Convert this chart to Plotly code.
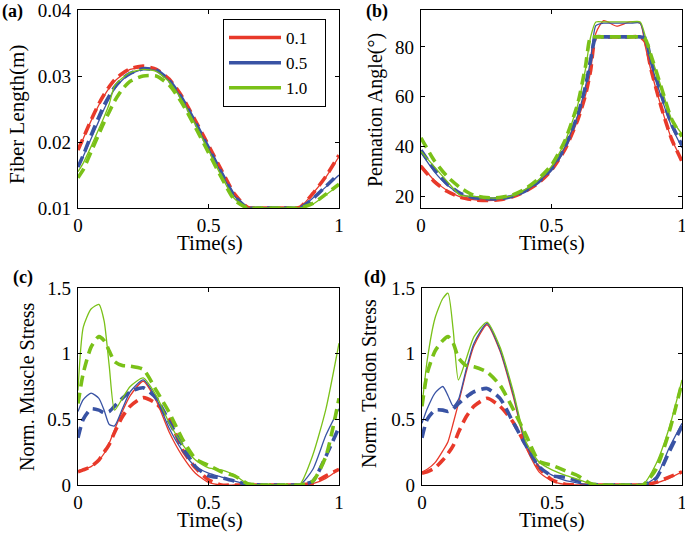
import plotly.graph_objects as go

# ---------------- data ----------------
T = [0, 0.02, 0.05, 0.08, 0.1, 0.12, 0.14, 0.17, 0.2, 0.25, 0.3, 0.35, 0.4,
     0.45, 0.5, 0.55, 0.6, 0.65, 0.7, 0.75, 0.8, 0.85, 0.9, 0.95, 1.0]
T_b = [0, 0.05, 0.1, 0.15, 0.2, 0.25, 0.3, 0.35, 0.4, 0.45, 0.5, 0.55, 0.6,
       0.63, 0.65, 0.67, 0.7, 0.75, 0.8, 0.84, 0.86, 0.88, 0.92, 0.96, 1.0]

legend_labels = ["0.1", "0.5", "1.0"]

# (a) Fiber length (m)
fib_01_solid = [0.0188, 0.0205, 0.0232, 0.0256, 0.0270, 0.0282, 0.0292, 0.0302, 0.0310, 0.0313, 0.0308, 0.0293, 0.0266,
                0.0230, 0.0193, 0.0155, 0.0120, 0.0101, 0.0100, 0.0100, 0.0100, 0.0101, 0.0122, 0.0147, 0.0178]
fib_01_dash = [0.0188, 0.0206, 0.0233, 0.0258, 0.0272, 0.0284, 0.0294, 0.0304, 0.0311, 0.0315, 0.0310, 0.0295, 0.0268,
               0.0232, 0.0195, 0.0157, 0.0121, 0.0101, 0.0100, 0.0100, 0.0100, 0.0101, 0.0122, 0.0148, 0.0180]
fib_05_solid = [0.0163, 0.0178, 0.0205, 0.0232, 0.0250, 0.0266, 0.0280, 0.0294, 0.0303, 0.0310, 0.0308, 0.0292, 0.0264,
                0.0228, 0.0190, 0.0152, 0.0118, 0.0100, 0.0100, 0.0100, 0.0100, 0.0100, 0.0115, 0.0132, 0.0150]
fib_05_dash = [0.0162, 0.0180, 0.0210, 0.0238, 0.0256, 0.0270, 0.0283, 0.0296, 0.0304, 0.0311, 0.0309, 0.0293, 0.0265,
               0.0229, 0.0191, 0.0153, 0.0118, 0.0100, 0.0100, 0.0100, 0.0100, 0.0100, 0.0114, 0.0133, 0.0152]
fib_10_solid = [0.0155, 0.0168, 0.0193, 0.0220, 0.0238, 0.0258, 0.0285, 0.0297, 0.0305, 0.0310, 0.0307, 0.0291, 0.0262,
                0.0226, 0.0187, 0.0148, 0.0114, 0.0100, 0.0100, 0.0100, 0.0100, 0.0100, 0.0106, 0.0120, 0.0135]
fib_10_dash = [0.0146, 0.0158, 0.0185, 0.0212, 0.0230, 0.0246, 0.0262, 0.0280, 0.0292, 0.0300, 0.0300, 0.0286, 0.0258,
               0.0222, 0.0184, 0.0146, 0.0112, 0.0100, 0.0100, 0.0100, 0.0100, 0.0100, 0.0107, 0.0121, 0.0136]

# (b) Pennation angle (deg)
pen_01_solid = [32.5, 26.5, 22.3, 19.8, 18.7, 18.3, 18.6, 19.8, 22.0, 25.3, 30.5, 38.5, 50.5,
                60.5, 70.5, 85.5, 90.5, 88.3, 90.0, 89.5, 80.0, 71.0, 56.0, 43.0, 34.5]
pen_01_dash = [32.0, 26.0, 22.0, 19.6, 18.6, 18.3, 18.6, 19.8, 22.0, 25.3, 30.5, 38.5, 50.5,
               60.5, 70.5, 84.0, 84.0, 84.0, 84.0, 84.0, 82.0, 71.5, 56.0, 43.0, 34.0]
pen_05_solid = [37.5, 30.0, 24.5, 21.0, 19.5, 19.0, 19.0, 20.0, 22.2, 25.8, 31.0, 39.5, 52.5,
                64.0, 75.0, 88.5, 89.5, 89.5, 89.5, 89.5, 82.0, 74.0, 60.0, 48.0, 39.5]
pen_05_dash = [38.5, 31.0, 25.0, 21.2, 19.5, 19.0, 19.0, 20.0, 22.2, 25.8, 31.0, 39.5, 52.5,
               64.0, 75.0, 84.0, 84.0, 84.0, 84.0, 84.0, 83.5, 75.0, 61.0, 49.0, 40.5]
pen_10_solid = [38.0, 32.0, 26.0, 20.5, 20.0, 19.5, 19.3, 20.3, 22.8, 26.5, 32.0, 41.5, 56.5,
                71.0, 84.0, 90.0, 90.0, 90.0, 90.0, 90.0, 84.0, 77.0, 64.0, 51.0, 45.0]
pen_10_dash = [43.5, 34.5, 28.0, 23.5, 20.5, 19.5, 19.5, 20.5, 23.0, 27.0, 32.5, 42.0, 57.0,
               72.0, 84.0, 84.0, 84.0, 84.0, 84.0, 84.0, 83.0, 77.0, 64.0, 51.0, 44.0]

# (c) Normalised muscle stress
mus_01_solid = [0.11, 0.12, 0.14, 0.19, 0.24, 0.32, 0.42, 0.56, 0.68, 0.79, 0.64, 0.40, 0.22,
                0.09, 0.02, 0.0, 0.0, 0.0, 0.0, 0.0, 0.0, 0.0, 0.01, 0.05, 0.12]
mus_01_dash = [0.10, 0.115, 0.14, 0.19, 0.25, 0.31, 0.40, 0.52, 0.60, 0.665, 0.62, 0.50, 0.27,
               0.13, 0.04, 0.0, 0.0, 0.0, 0.0, 0.0, 0.0, 0.0, 0.015, 0.07, 0.12]
mus_05_solid = [0.56, 0.65, 0.70, 0.66, 0.57, 0.46, 0.45, 0.58, 0.71, 0.80, 0.66, 0.43, 0.26,
                0.14, 0.09, 0.06, 0.03, 0.005, 0.0, 0.0, 0.0, 0.0, 0.12, 0.38, 0.58]
mus_05_dash = [0.36, 0.50, 0.58, 0.57, 0.55, 0.56, 0.60, 0.66, 0.71, 0.74, 0.66, 0.48, 0.30,
               0.14, 0.07, 0.055, 0.03, 0.005, 0.0, 0.0, 0.0, 0.0, 0.03, 0.22, 0.44]
mus_10_solid = [0.72, 1.20, 1.34, 1.375, 1.25, 0.90, 0.57, 0.66, 0.75, 0.815, 0.68, 0.47, 0.31,
                0.19, 0.13, 0.115, 0.075, 0.01, 0.0, 0.0, 0.0, 0.005, 0.23, 0.58, 1.08]
mus_10_dash = [0.62, 0.85, 1.05, 1.13, 1.10, 1.02, 0.94, 0.91, 0.905, 0.88, 0.72, 0.55, 0.35,
               0.20, 0.15, 0.10, 0.07, 0.01, 0.0, 0.0, 0.0, 0.0, 0.03, 0.22, 0.66]

# (d) Normalised tendon stress
ten_01_solid = [0.10, 0.12, 0.17, 0.26, 0.33, 0.47, 0.62, 0.86, 1.06, 1.22, 1.02, 0.68, 0.29,
                0.10, 0.03, 0.005, 0.0, 0.0, 0.0, 0.0, 0.0, 0.0, 0.015, 0.05, 0.10]
ten_01_dash = [0.09, 0.10, 0.13, 0.19, 0.24, 0.30, 0.40, 0.52, 0.60, 0.66, 0.60, 0.48, 0.30,
               0.13, 0.04, 0.005, 0.0, 0.0, 0.0, 0.0, 0.0, 0.0, 0.02, 0.06, 0.10]
ten_05_solid = [0.47, 0.58, 0.70, 0.75, 0.68, 0.60, 0.65, 0.88, 1.08, 1.23, 1.03, 0.70, 0.31,
                0.14, 0.075, 0.035, 0.015, 0.0, 0.0, 0.0, 0.0, 0.0, 0.06, 0.28, 0.47]
ten_05_dash = [0.36, 0.50, 0.57, 0.57, 0.56, 0.58, 0.62, 0.67, 0.71, 0.735, 0.66, 0.48, 0.30,
               0.14, 0.07, 0.06, 0.03, 0.005, 0.0, 0.0, 0.0, 0.0, 0.05, 0.25, 0.45]
ten_10_solid = [0.60, 0.95, 1.27, 1.42, 1.46, 1.18, 0.80, 0.96, 1.13, 1.24, 1.05, 0.72, 0.33,
                0.175, 0.115, 0.075, 0.043, 0.01, 0.0, 0.0, 0.0, 0.005, 0.16, 0.43, 0.80]
ten_10_dash = [0.60, 0.85, 1.02, 1.10, 1.13, 1.08, 0.97, 0.91, 0.90, 0.86, 0.76, 0.58, 0.38,
               0.18, 0.15, 0.11, 0.07, 0.01, 0.0, 0.0, 0.0, 0.0, 0.12, 0.40, 0.78]

colors = ["#E8392A", "#3953A4", "#7AC118"]

panels = [
    (T, [fib_01_solid, fib_05_solid, fib_10_solid], [fib_01_dash, fib_05_dash, fib_10_dash], "x", "y"),
    (T_b, [pen_01_solid, pen_05_solid, pen_10_solid], [pen_01_dash, pen_05_dash, pen_10_dash], "x2", "y2"),
    (T, [mus_01_solid, mus_05_solid, mus_10_solid], [mus_01_dash, mus_05_dash, mus_10_dash], "x3", "y3"),
    (T, [ten_01_solid, ten_05_solid, ten_10_solid], [ten_01_dash, ten_05_dash, ten_10_dash], "x4", "y4"),
]

FONT = "Times New Roman, Liberation Serif, serif"

fig = go.Figure()
for tt, sols, dashes, xa, ya in panels:
    for i in range(3):
        fig.add_trace(go.Scatter(x=tt, y=sols[i], mode="lines", xaxis=xa, yaxis=ya,
                                 line=dict(color=colors[i], width=1.3, shape="spline", smoothing=0.6),
                                 showlegend=False, hoverinfo="skip"))
        fig.add_trace(go.Scatter(x=tt, y=dashes[i], mode="lines", xaxis=xa, yaxis=ya,
                                 line=dict(color=colors[i], width=3.6, dash="11px,6px",
                                           shape="spline", smoothing=0.6),
                                 showlegend=False, hoverinfo="skip"))

# legend entries (thick solid samples)
NBSP = "\u00a0"
for i, lab in enumerate(legend_labels):
    fig.add_trace(go.Scatter(x=[None], y=[None], mode="lines", xaxis="x", yaxis="y",
                             line=dict(color=colors[i], width=3.5), name=lab + NBSP * 3,
                             showlegend=True))

W, H = 685, 536
def px(a, b):
    return [a / W, b / W]
def py(top, bot):
    return [1 - bot / H, 1 - top / H]

tickfont = dict(family=FONT, size=19, color="black")
axis_common = dict(showline=True, mirror="ticks", linecolor="black", linewidth=1.3,
                   ticks="inside", ticklen=4, tickwidth=1, tickcolor="black",
                   showgrid=False, zeroline=False, tickfont=tickfont, automargin=False,
                   ticklabeloverflow="allow")

xt = dict(tickvals=[0, 0.5, 1], ticktext=["0", "0.5", "1"], range=[0, 1], ticklabelstandoff=0)

layout = dict(
    width=W, height=H, autosize=False,
    margin=dict(l=0, r=0, t=0, b=0, pad=0, autoexpand=False),
    paper_bgcolor="white", plot_bgcolor="white",
    font=dict(family=FONT, size=19, color="black"),
    showlegend=True,
    legend=dict(x=223 / W, y=1 - 19 / H, xanchor="left", yanchor="top",
                bordercolor="black", borderwidth=1, bgcolor="white", itemwidth=52,
                font=dict(family=FONT, size=17, color="black")),
    xaxis=dict(**axis_common, **xt, domain=px(78, 339), anchor="y"),
    yaxis=dict(**axis_common, domain=py(10, 208), anchor="x", range=[0.01, 0.04],
               tickvals=[0.01, 0.02, 0.03, 0.04], ticktext=["0.01", "0.02", "0.03", "0.04"],
               ticklabelstandoff=2),
    xaxis2=dict(**axis_common, **xt, domain=px(421, 682), anchor="y2"),
    yaxis2=dict(**axis_common, domain=py(10, 208), anchor="x2", range=[15.3, 94.8],
                tickvals=[20, 40, 60, 80], ticktext=["20", "40", "60", "80"], ticklabelstandoff=2),
    xaxis3=dict(**axis_common, **xt, domain=px(78, 339), anchor="y3"),
    yaxis3=dict(**axis_common, domain=py(288, 485), anchor="x3", range=[0, 1.5],
                tickvals=[0, 0.5, 1, 1.5], ticktext=["0", "0.5", "1", "1.5"], ticklabelstandoff=2),
    xaxis4=dict(**axis_common, **xt, domain=px(422, 682), anchor="y4"),
    yaxis4=dict(**axis_common, domain=py(288, 485), anchor="x4", range=[0, 1.5],
                tickvals=[0, 0.5, 1, 1.5], ticktext=["0", "0.5", "1", "1.5"], ticklabelstandoff=2),
)
fig.update_layout(**layout)

def ann(text, x, y, angle=0, size=20, bold=False, xanchor="center"):
    fig.add_annotation(text=("<b>%s</b>" % text) if bold else text,
                       x=x / W, y=1 - y / H, xref="paper", yref="paper",
                       xanchor=xanchor, yanchor="middle", textangle=angle, showarrow=False,
                       font=dict(family=FONT, size=size, color="black"))

ann("Fiber Length(m)", 17, 115, -90, size=21)
ann("Pennation Angle(°)", 376, 110, -90)
ann("Norm. Muscle Stress", 27, 387, -90)
ann("Norm. Tendon Stress", 369, 384, -90)
ann("Time(s)", 210, 243, size=21)
ann("Time(s)", 552, 243, size=21)
ann("Time(s)", 210, 520, size=21)
ann("Time(s)", 552, 520, size=21)
ann("(a)", 0, 11, size=18, bold=True, xanchor="left")
ann("(b)", 364, 12, size=18, bold=True, xanchor="left")
ann("(c)", 11, 277, size=18, bold=True, xanchor="left")
ann("(d)", 362, 277, size=18, bold=True, xanchor="left")

fig.write_html("out.html", config={"displayModeBar": False},
               post_script="document.body.style.margin='0';document.body.style.overflow='hidden';")
